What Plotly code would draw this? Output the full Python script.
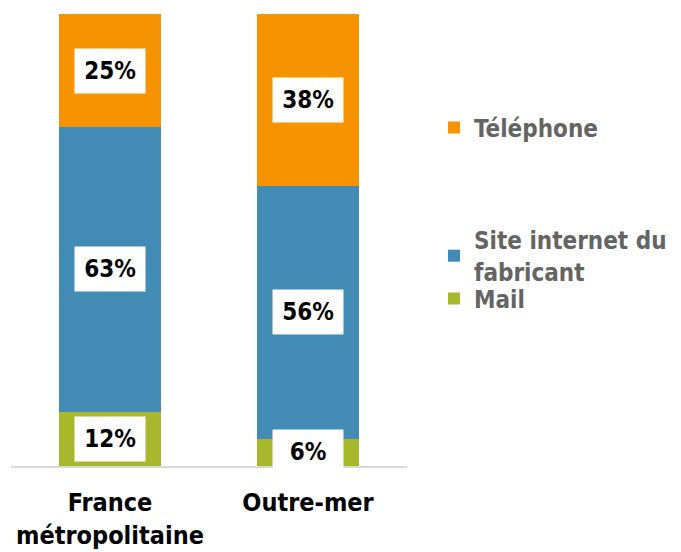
import plotly.graph_objects as go

categories = ["France<br>métropolitaine", "Outre-mer"]
series_names = ["Mail", "Site internet du<br>fabricant", "Téléphone"]
mail = [12, 6]
site = [63, 56]
telephone = [25, 38]
colors = ["#A8B82C", "#428BB4", "#F59300"]

values = [mail, site, telephone]
FONT = "DejaVu Sans Condensed"

fig = go.Figure()
legend_ids = ["legend3", "legend2", "legend"]
for name, vals, col, lg in zip(series_names, values, colors, legend_ids):
    fig.add_trace(go.Bar(
        x=categories, y=vals, name=name,
        marker=dict(color=col, line=dict(width=0)),
        legend=lg, hoverinfo="skip",
    ))

annotations = []
for ci, cat in enumerate(categories):
    base = 0
    for vals in values:
        v = vals[ci]
        annotations.append(dict(
            x=cat, y=base + v / 2, xref="x", yref="y",
            text=f"<b>{v}%</b>", showarrow=False,
            bgcolor="white", width=66, height=40, borderpad=2,
            font=dict(family=FONT, size=24, color="black"),
        ))
        base += v

legend_common = dict(
    xref="container", yref="container", xanchor="left", yanchor="middle",
    font=dict(family=FONT, size=24, color="#646464", weight="bold"),
    bgcolor="rgba(0,0,0,0)", itemclick=False, itemdoubleclick=False,
)

OFF = 8  # page body offset
LX = 434 - OFF

fig.update_layout(
    width=681, height=552,
    margin=dict(l=11 - OFF, r=274 + OFF, t=14 - OFF, b=86 + OFF),
    paper_bgcolor="white", plot_bgcolor="white",
    barmode="stack", bargap=0.485,
    annotations=annotations,
    legend=dict(x=LX / 681, y=1 - (128 - OFF) / 552, **legend_common),
    legend2=dict(x=LX / 681, y=1 - (256 - OFF) / 552, **legend_common),
    legend3=dict(x=LX / 681, y=1 - (299 - OFF) / 552, **legend_common),
    xaxis=dict(
        range=[-0.5, 1.5], showgrid=False, showline=True,
        linecolor="#D9D9D9", linewidth=2, ticks="", ticklabelstandoff=13,
        tickfont=dict(family=FONT, size=25, color="black", weight="bold"),
    ),
    yaxis=dict(range=[0, 100], visible=False, showgrid=False, zeroline=False),
    showlegend=True,
)

fig.write_html("out.html")
